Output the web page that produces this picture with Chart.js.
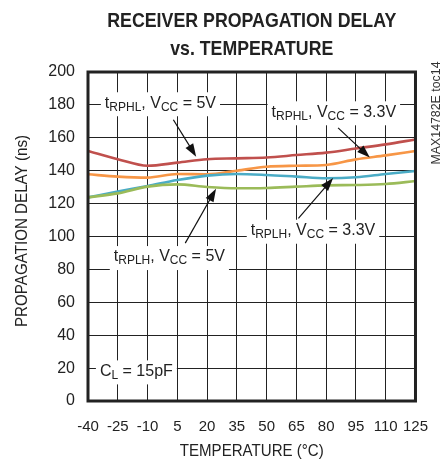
<!DOCTYPE html>
<html>
<head>
<meta charset="utf-8">
<script src="https://cdn.jsdelivr.net/npm/chart.js@4"></script>
<style>
  body { margin: 0; background: #fff; }
  #wrap { width: 445px; height: 462px; }
</style>
</head>
<body>
<div id="wrap"><canvas id="chart" width="445" height="462"></canvas></div>
<script>
const FONT = "'Liberation Sans', Arial, sans-serif"

const temps = [-40, -25, -10, 5, 20, 35, 50, 65, 80, 95, 110, 125]
const yTicks = [0, 20, 40, 60, 80, 100, 120, 140, 160, 180, 200]

const rphl5 = [152, 147, 143, 144.9, 147, 147.5, 148, 149.5, 151, 153.5, 156, 159]
const rphl33 = [137.8, 136.4, 135.8, 138, 137.8, 140, 142.4, 143, 143.5, 146.9, 149.3, 152]
const rplh33 = [123.8, 127.3, 130.7, 134.3, 137, 138, 137.4, 136.4, 135.4, 136, 138, 139.8]
const rplh5 = [123.8, 126.2, 130.3, 131.7, 130.1, 129.3, 129.5, 130.3, 131.1, 131.3, 131.9, 133.7]

function pts(arr) {
    return temps.map((t, i) => ({x: t, y: arr[i]}))
}

// annotation labels: [text, subscript?] pieces, anchored at data coords
const notes = [
    {parts: [['t'], ['RPHL', 1], [', V'], ['CC', 1], [' = 5V']], x: -31.5, y: 181, arrow: [3, 171, 14.5, 148.5]},
    {parts: [['t'], ['RPHL', 1], [', V'], ['CC', 1], [' = 3.3V']], x: 52.5, y: 175.5, arrow: [86, 166, 102, 148]},
    {parts: [['t'], ['RPLH', 1], [', V'], ['CC', 1], [' = 5V']], x: -27, y: 87.5, arrow: [9, 96, 24.5, 129]},
    {parts: [['t'], ['RPLH', 1], [', V'], ['CC', 1], [' = 3.3V']], x: 42, y: 103.5, arrow: [66, 111, 83.5, 135.5]},
    {parts: [['C'], ['L', 1], [' = 15pF']], x: -34, y: 18}
]

function drawParts(ctx, parts, x, y, measureOnly) {
    let w = 0
    parts.forEach(p => {
        ctx.font = (p[1] ? '12px ' : '16px ') + FONT
        if (!measureOnly) ctx.fillText(p[0], x + w, y + (p[1] ? 4 : 0))
        w += ctx.measureText(p[0]).width
    })
    return w
}

// narrow-looking text: squeeze horizontally to a target width
function fitText(ctx, text, cx, cy, font, width, rot) {
    ctx.save()
    ctx.font = font
    const w = ctx.measureText(text).width
    ctx.translate(cx, cy)
    if (rot) ctx.rotate(rot)
    ctx.scale(width / w, 1)
    ctx.textAlign = 'center'
    ctx.fillText(text, 0, 0)
    ctx.restore()
}

const extras = {
    id: 'extras',
    afterDatasetsDraw(chart) {
        const ctx = chart.ctx
        const xs = chart.scales.x
        const ys = chart.scales.y
        const a = chart.chartArea
        ctx.save()
        notes.forEach(n => {
            const px = xs.getPixelForValue(n.x)
            const py = ys.getPixelForValue(n.y)
            ctx.textBaseline = 'middle'
            const w = drawParts(ctx, n.parts, px, py, true)
            ctx.fillStyle = '#fff'
            ctx.fillRect(px - 4, py - 11, w + 8, 24)
            ctx.fillStyle = '#222'
            drawParts(ctx, n.parts, px, py, false)
            if (n.arrow) {
                const x1 = xs.getPixelForValue(n.arrow[0]), y1 = ys.getPixelForValue(n.arrow[1])
                const x2 = xs.getPixelForValue(n.arrow[2]), y2 = ys.getPixelForValue(n.arrow[3])
                const ang = Math.atan2(y2 - y1, x2 - x1)
                ctx.strokeStyle = '#111'
                ctx.lineWidth = 1.2
                ctx.beginPath()
                ctx.moveTo(x1, y1)
                ctx.lineTo(x2 - 8 * Math.cos(ang), y2 - 8 * Math.sin(ang))
                ctx.stroke()
                ctx.fillStyle = '#111'
                ctx.beginPath()
                ctx.moveTo(x2, y2)
                ctx.lineTo(x2 - 13 * Math.cos(ang) + 4.5 * Math.sin(ang), y2 - 13 * Math.sin(ang) - 4.5 * Math.cos(ang))
                ctx.lineTo(x2 - 13 * Math.cos(ang) - 4.5 * Math.sin(ang), y2 - 13 * Math.sin(ang) + 4.5 * Math.cos(ang))
                ctx.closePath()
                ctx.fill()
            }
        })
        // frame
        ctx.strokeStyle = '#222'
        ctx.lineWidth = 3
        ctx.strokeRect(a.left, a.top, a.right - a.left, a.bottom - a.top)

        // title and axis titles
        ctx.fillStyle = '#222'
        ctx.textBaseline = 'alphabetic'
        const cx = (a.left + a.right) / 2
        fitText(ctx, 'RECEIVER PROPAGATION DELAY', cx, 27, 'bold 21px ' + FONT, 289)
        fitText(ctx, 'vs. TEMPERATURE', cx, 55, 'bold 21px ' + FONT, 163)
        ctx.textBaseline = 'middle'
        fitText(ctx, 'TEMPERATURE (°C)', cx, 451, '17px ' + FONT, 144)
        fitText(ctx, 'PROPAGATION DELAY (ns)', 23, 231, '16px ' + FONT, 192, -Math.PI / 2)

        // part tag on the right
        ctx.fillStyle = '#333'
        fitText(ctx, 'MAX14782E toc14', 437, 113, '12px ' + FONT, 103, -Math.PI / 2)
        ctx.restore()
    }
}

const ctx = document.getElementById('chart').getContext('2d')
const chart = new Chart(ctx, {
    type: 'line',
    data: {
        datasets: [
            {label: 'tRPLH VCC=5V', data: pts(rplh5), borderColor: '#9bbb59'},
            {label: 'tRPLH VCC=3.3V', data: pts(rplh33), borderColor: '#4bacc6'},
            {label: 'tRPHL VCC=3.3V', data: pts(rphl33), borderColor: '#f79646'},
            {label: 'tRPHL VCC=5V', data: pts(rphl5), borderColor: '#c0504d'}
        ]
    },
    options: {
        responsive: false,
        animation: false,
        layout: {padding: {left: 0, top: 72, right: 24, bottom: 0}},
        elements: {
            line: {borderWidth: 2.6, cubicInterpolationMode: 'monotone', fill: false},
            point: {radius: 0}
        },
        plugins: {legend: {display: false}, tooltip: {enabled: false}},
        scales: {
            x: {
                type: 'linear',
                min: -40,
                max: 125,
                afterBuildTicks: s => { s.ticks = temps.map(v => ({value: v})) },
                afterFit: s => { s.height = 61 },
                grid: {color: '#222', lineWidth: 1, drawTicks: false},
                border: {display: false},
                ticks: {color: '#222', font: {family: FONT, size: 15}, padding: 17, maxRotation: 0, autoSkip: false}
            },
            y: {
                min: 0,
                max: 200,
                afterBuildTicks: s => { s.ticks = yTicks.map(v => ({value: v})) },
                afterFit: s => { s.width = 88 },
                grid: {color: '#222', lineWidth: 1, drawTicks: false},
                border: {display: false},
                ticks: {color: '#222', font: {family: FONT, size: 16}, padding: 13}
            }
        }
    },
    plugins: [extras]
})
</script>
</body>
</html>
